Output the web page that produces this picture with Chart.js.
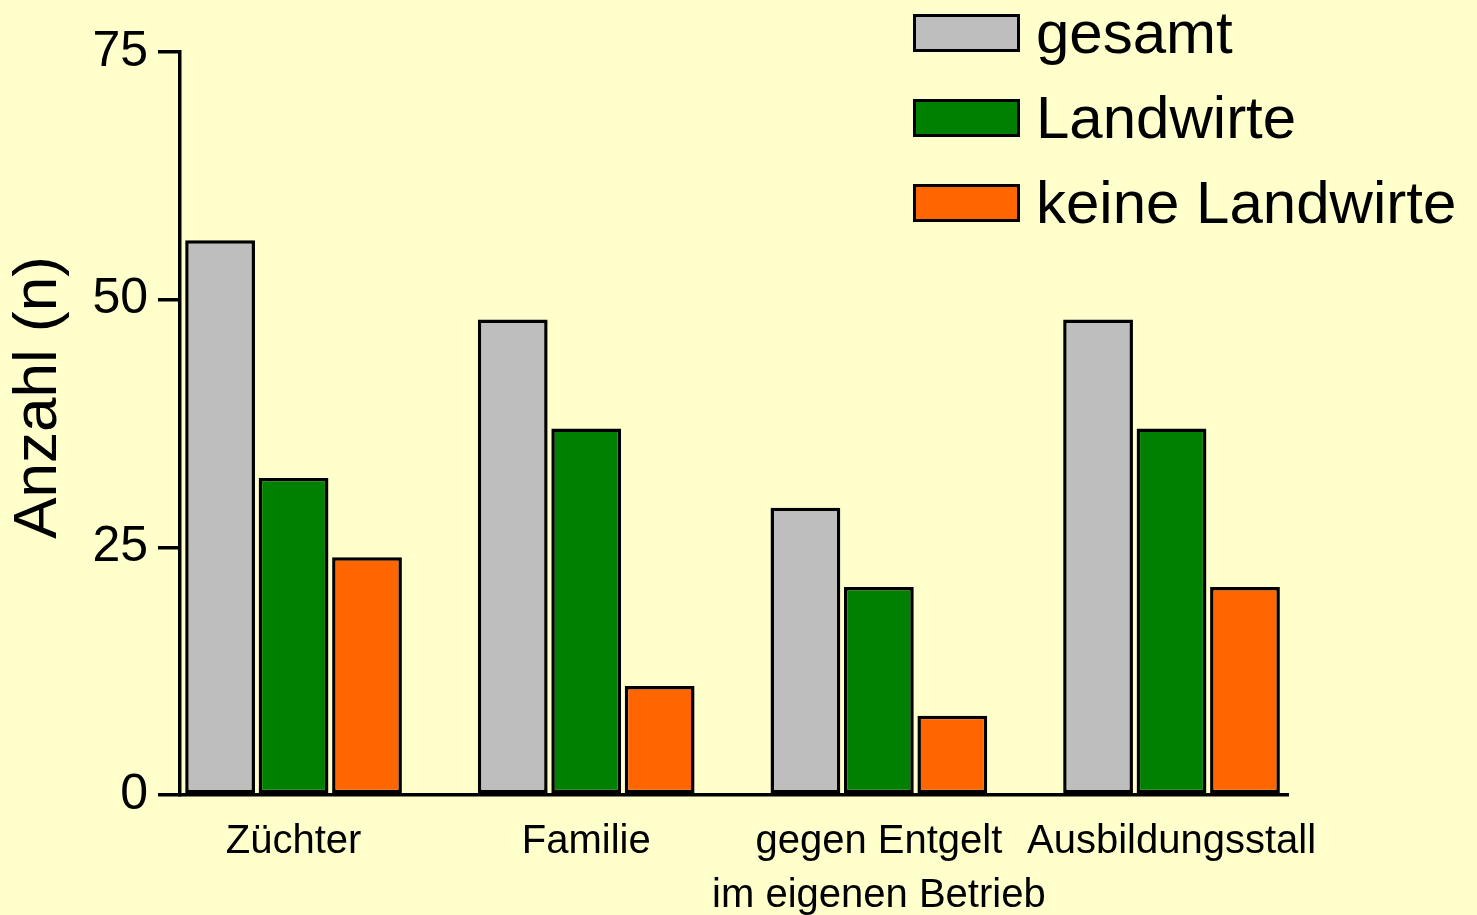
<!DOCTYPE html>
<html lang="de">
<head>
<meta charset="utf-8">
<title>Anzahl (n)</title>
<script src="https://cdn.jsdelivr.net/npm/chart.js@4.4.1/dist/chart.umd.min.js"></script>
<style>
    html, body { margin: 0; padding: 0; background: #ffffcc; }
    #wrap { position: relative; width: 1477px; height: 915px; overflow: hidden; }
    #legend {
        position: absolute; left: 913px; top: 10px;
        font-family: 'Liberation Sans', Arial, sans-serif; font-size: 60px; color: #000;
    }
    .item { display: flex; align-items: center; height: 45px; margin-bottom: 40px; white-space: nowrap; }
    .swatch { width: 101px; height: 32px; border: 3.5px solid #000; margin-right: 16px; }
</style>
</head>
<body>
<div id="wrap">
    <canvas id="myChart" width="1477" height="915"></canvas>
    <div id="legend"></div>
</div>
<script>
const categories = ['Züchter', 'Familie', ['gegen Entgelt', 'im eigenen Betrieb'], 'Ausbildungsstall'];
const seriesNames = ['gesamt', 'Landwirte', 'keine Landwirte'];
const gesamt = [56, 48, 29, 48];
const landwirte = [32, 37, 21, 37];
const keineLandwirte = [24, 11, 8, 21];
const yTicks = [0, 25, 50, 75];
const colors = ['#bebebe', '#008000', '#ff6600'];

const FONT = "'Liberation Sans', Arial, sans-serif";

document.addEventListener('DOMContentLoaded', function() {
    const ctx = document.getElementById('myChart').getContext('2d');

    const datasets = [gesamt, landwirte, keineLandwirte].map(function(vals, k) {
        return {
            label: seriesNames[k],
            data: vals.map(function(v, i) { return { x: i, y: v }; }),
            backgroundColor: colors[k],
            borderColor: '#000',
            borderWidth: 3.5,
            borderSkipped: false,
            categoryPercentage: 0.753,
            barPercentage: 0.95
        };
    });

    // y axis title, drawn a bit above the axis middle like the original
    const yTitle = {
        id: 'yTitle',
        afterDraw(chart) {
            const c = chart.ctx, area = chart.chartArea;
            c.save();
            c.translate(39, (area.top + area.bottom) / 2 - 26);
            c.rotate(-Math.PI / 2);
            c.font = '62px ' + FONT;
            c.fillStyle = '#000';
            c.textAlign = 'center';
            c.textBaseline = 'middle';
            c.fillText('Anzahl (n)', 0, 0);
            c.restore();
        }
    };

    const chart = new Chart(ctx, {
        type: 'bar',
        data: { datasets: datasets },
        plugins: [yTitle],
        options: {
            responsive: false,
            animation: false,
            layout: { padding: { top: 52, right: 189, bottom: 0, left: 0 } },
            scales: {
                x: {
                    type: 'linear',
                    min: -0.388,
                    max: 3.398,
                    offset: false,
                    afterBuildTicks: function(scale) {
                        scale.ticks = categories.map(function(c, i) { return { value: i }; });
                    },
                    afterFit: function(scale) { scale.height = 120; },
                    grid: { display: false, drawTicks: false },
                    border: { display: true, color: '#000', width: 3.5 },
                    ticks: {
                        autoSkip: false,
                        maxRotation: 0,
                        minRotation: 0,
                        padding: 20,
                        color: '#000',
                        font: { family: FONT, size: 40, lineHeight: 1.35 },
                        callback: function(value) { return categories[value]; }
                    }
                },
                y: {
                    min: 0,
                    max: 75,
                    afterBuildTicks: function(scale) {
                        scale.ticks = yTicks.map(function(v) { return { value: v }; });
                    },
                    afterFit: function(scale) { scale.width = 180; },
                    grid: { drawOnChartArea: false, drawTicks: true, tickLength: 22, color: '#000', lineWidth: 3.5 },
                    border: { display: true, color: '#000', width: 3.5 },
                    ticks: {
                        padding: 10,
                        color: '#000',
                        font: { family: FONT, size: 50 }
                    }
                }
            },
            plugins: {
                legend: { display: false },
                tooltip: { enabled: false }
            }
        }
    });

    // legend as html, built from the chart datasets
    const legend = document.getElementById('legend');
    chart.data.datasets.forEach(function(ds) {
        const item = document.createElement('div');
        item.className = 'item';
        const sw = document.createElement('span');
        sw.className = 'swatch';
        sw.style.background = ds.backgroundColor;
        const txt = document.createElement('span');
        txt.textContent = ds.label;
        item.appendChild(sw);
        item.appendChild(txt);
        legend.appendChild(item);
    });
});
</script>
</body>
</html>
